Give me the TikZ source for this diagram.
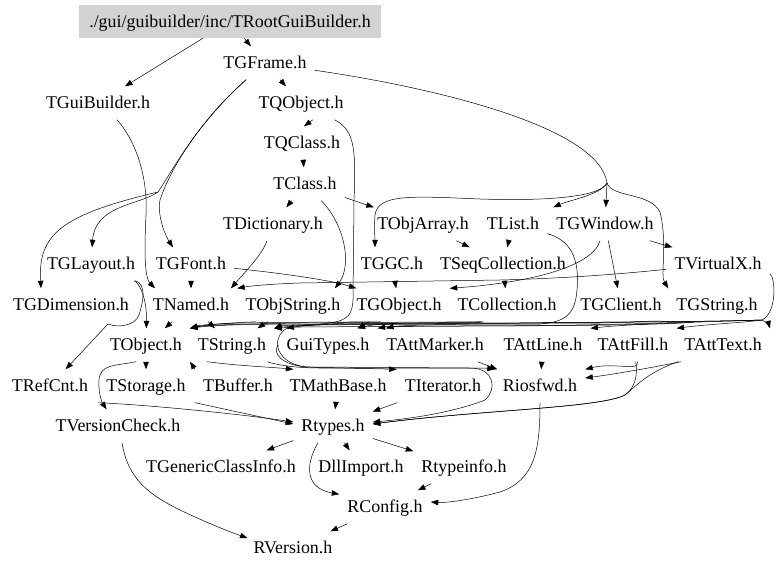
\documentclass[tikz,border=0pt]{standalone}
\usepackage{fontspec}
\setmainfont{Liberation Serif}
\usetikzlibrary{arrows.meta}
\definecolor{rootgray}{RGB}{211,211,211}
\newcommand{\graphfont}{\fontsize{17.9}{21}\selectfont}
\begin{document}
\begin{tikzpicture}[x=1pt,y=-1pt,
  nd/.style={inner xsep=8pt, inner ysep=0pt, minimum height=33pt, text height=15.8pt, text depth=4pt, font=\graphfont},
  rootnd/.style={nd, fill=rootgray, minimum width=302pt},
  ln/.style={draw, line width=0.5pt},
  e/.style={ln, -{Triangle[length=7.5pt,width=5.5pt]}}]
\useasboundingbox (0,0) rectangle (779,568);
\fill[white] (0,0) rectangle (779,568);
% nodes
\node[rootnd] (root) at (230,21.5) {./gui/guibuilder/inc/TRootGuiBuilder.h};
\node[nd] (TGFrame) at (265,63) {TGFrame.h};
\node[nd] (TGuiBuilder) at (98,103) {TGuiBuilder.h};
\node[nd] (TQObject) at (301,103) {TQObject.h};
\node[nd] (TQClass) at (302,143) {TQClass.h};
\node[nd] (TClass) at (305,184) {TClass.h};
\node[nd] (TDictionary) at (273,224) {TDictionary.h};
\node[nd] (TObjArray) at (423,224) {TObjArray.h};
\node[nd] (TList) at (513,224) {TList.h};
\node[nd] (TGWindow) at (605,224) {TGWindow.h};
\node[nd] (TGLayout) at (91,264) {TGLayout.h};
\node[nd] (TGFont) at (191,264) {TGFont.h};
\node[nd] (TGGC) at (392,264) {TGGC.h};
\node[nd] (TSeqColl) at (503,264) {TSeqCollection.h};
\node[nd] (TVirtualX) at (718,264) {TVirtualX.h};
\node[nd] (TGDim) at (71,305) {TGDimension.h};
\node[nd] (TNamed) at (191,305) {TNamed.h};
\node[nd] (TObjString) at (293,305) {TObjString.h};
\node[nd] (TGObject) at (399,305) {TGObject.h};
\node[nd] (TColl) at (507,305) {TCollection.h};
\node[nd] (TGClient) at (621,305) {TGClient.h};
\node[nd] (TGString) at (717,305) {TGString.h};
\node[nd] (TObject) at (146,345) {TObject.h};
\node[nd] (TString) at (232,345) {TString.h};
\node[nd] (GuiTypes) at (328,345) {GuiTypes.h};
\node[nd] (TAttMarker) at (435,345) {TAttMarker.h};
\node[nd] (TAttLine) at (543,345) {TAttLine.h};
\node[nd] (TAttFill) at (633,345) {TAttFill.h};
\node[nd] (TAttText) at (723,345) {TAttText.h};
\node[nd] (TRefCnt) at (50,386) {TRefCnt.h};
\node[nd] (TStorage) at (146,386) {TStorage.h};
\node[nd] (TBuffer) at (238,386) {TBuffer.h};
\node[nd] (TMathBase) at (338,386) {TMathBase.h};
\node[nd] (TIterator) at (443,386) {TIterator.h};
\node[nd] (Riosfwd) at (540,386) {Riosfwd.h};
\node[nd] (TVersionCheck) at (118,426) {TVersionCheck.h};
\node[nd] (Rtypes) at (333,426) {Rtypes.h};
\node[nd] (TGenCI) at (221,467) {TGenericClassInfo.h};
\node[nd] (DllImport) at (361,467) {DllImport.h};
\node[nd] (Rtypeinfo) at (464,467) {Rtypeinfo.h};
\node[nd] (RConfig) at (385,507) {RConfig.h};
\node[nd] (RVersion) at (293,548) {RVersion.h};
\coordinate (hub) at (607,183);
\coordinate (lhub) at (158,192);
\coordinate (vhub) at (762,320);
% edges, top
\draw[e] (root) -- (TGuiBuilder);
\draw[e] (root) -- (TGFrame);
\draw[e] (TGFrame) -- (TQObject);
\draw[e] (TGFrame) .. controls (195,125) and (168,175) .. (160,200) .. controls (157,215) and (165,235) .. ([xshift=-18pt]TGFont.north);
\draw[ln] (TGFrame) .. controls (195,125) and (170,175) .. (lhub);
\draw[e] (lhub) .. controls (140,205) and (95,205) .. (TGLayout);
\draw[e] (lhub) .. controls (60,215) and (38,235) .. ([xshift=-30pt]TGDim.north);
\draw[ln] (TGFrame) .. controls (450,90) and (600,130) .. (hub);
\draw[e] (hub) -- (TGWindow);
\draw[e] (hub) .. controls (600,195) and (570,200) .. ([xshift=6pt]TList.north east);
\draw[e] (hub) .. controls (600,198) and (540,201) .. (480,199) .. controls (410,196) and (378,194) .. (375,215) .. controls (374,228) and (375,238) .. ([xshift=-17pt]TGGC.north);
\draw[e] (hub) .. controls (612,198) and (650,192) .. (660,212) .. controls (668,245) and (660,275) .. (TGString.north west);
\draw[e] ([xshift=19pt]TGuiBuilder.south) .. controls (135,140) and (148,175) .. (146,215) .. controls (144,255) and (145,278) .. ([xshift=-36pt]TNamed.north);
\draw[e] ([xshift=12pt]TQObject.south) -- ([xshift=2pt]TQClass.north);
\draw[e] (TQClass) -- (TClass);
\draw[e] (TQObject) .. controls (355,130) and (356,150) .. (354,200) -- (353,300) .. controls (352,318) and (345,322) .. (320,324) .. controls (295,325) and (280,326) .. (TString.north east);
\draw[e] (TClass) -- (TDictionary);
\draw[e] (TClass) -- (TObjArray);
\draw[e] (TClass) .. controls (345,225) and (352,265) .. ([xshift=42pt]TObjString.north);
\draw[e] (TDictionary) .. controls (262,255) and (245,272) .. ([xshift=40pt]TNamed.north);
\draw[e] (TObjArray) -- (TSeqColl);
\draw[e] (TList) -- (TSeqColl);
\draw[e] (TList) .. controls (570,240) and (580,258) .. (577,290) .. controls (575,315) and (565,322) .. (540,324) -- (320,324) .. controls (250,324) and (215,325) .. (TObject.north east);
\draw[e] ([xshift=-12pt]TGWindow.south east) -- ([xshift=6pt]TVirtualX.north west);
\draw[e] (TGWindow) -- (TGClient);
\draw[e] (TGWindow) .. controls (592,268) and (525,283) .. (TGObject.north east);
\draw[e] (TVirtualX) .. controls (640,272) and (580,278) .. (500,280) -- (300,283) .. controls (270,284) and (250,286) .. (TNamed.north east);
\draw[e] (TGFont) -- (TNamed);
\draw[e] (TGFont) .. controls (280,273) and (330,280) .. ([xshift=8pt]TGObject.north west);
\draw[e] (TGGC) -- (TGObject);
\draw[e] (TSeqColl) -- (TColl);
\draw[e] (TGLayout) .. controls (140,283) and (147,300) .. (TObject);
\draw[e] (TGLayout) .. controls (147,285) and (143,302) .. (139,315) .. controls (135,326) and (118,328) .. (108,324) -- (TRefCnt);
% bundle into row 7
\draw[e] (TNamed) -- (TObject);
\draw[e] (TNamed) -- (TString);
\draw[e] (TObjString) -- (TString);
\draw[e] (TObjString) .. controls (255,322) and (215,323) .. (TObject.north east);
\draw[e] (TGObject) .. controls (380,322) and (300,322) .. (240,323) .. controls (215,324) and (200,325) .. (TObject.north east);
\draw[e] (TGObject) -- (GuiTypes);
\draw[e] (TColl) .. controls (480,322) and (400,322) .. (300,323) .. controls (240,324) and (205,325) .. (TObject.north east);
\draw[e] (TColl) .. controls (480,324) and (400,324) .. (320,325) .. controls (295,326) and (282,327) .. (TString.north east);
\draw[e] (TColl) .. controls (480,323) and (330,323) .. (292,326) .. controls (270,333) and (272,362) .. (305,367) -- (TIterator.north west);
\draw[e] (TGString) .. controls (690,322) and (600,326) .. (450,326) -- (300,327) .. controls (290,327) and (282,328) .. (TString.north east);
\draw[e] (TGString) .. controls (690,324) and (600,326) .. (450,326) .. controls (400,326) and (385,327) .. (GuiTypes.north east);
\draw[e] (TGClient) .. controls (660,320) and (640,322) .. (600,323) -- (420,323) .. controls (390,323) and (370,325) .. ([xshift=-20pt]GuiTypes.north east);
\draw[ln] (TVirtualX) .. controls (775,275) and (778,312) .. (vhub);
\draw[e] (vhub) .. controls (766,322) and (769,325) .. (TAttText.north east);
\draw[e] (vhub) .. controls (740,323) and (710,324) .. (TAttFill.north east);
\draw[e] (vhub) .. controls (700,322) and (630,324) .. (TAttLine.north east);
\draw[e] (vhub) .. controls (700,322) and (600,322) .. (520,323) .. controls (470,324) and (400,325) .. ([xshift=8pt]TAttMarker.north west);
\draw[e] (vhub) .. controls (700,322) and (600,322) .. (520,323) -- (350,323) .. controls (320,324) and (300,326) .. ([xshift=8pt]GuiTypes.north west);
% row 8
\draw[e] (TObject) -- (TStorage);
\draw[e] ([xshift=-10pt]TObject.south) .. controls (115,366) and (100,364) .. (99,380) .. controls (98,395) and (103,404) .. (TVersionCheck);
\draw[e] (TBuffer.north west) -- (TObject.south east);
\draw[e] ([xshift=-25pt]TString.south) .. controls (240,366) and (270,367) .. ([xshift=12pt]TMathBase.north west);
\draw[e] (TString) .. controls (268,362) and (285,368) .. (320,368) -- (450,368) .. controls (470,368) and (485,368) .. (Riosfwd.north west);
\draw[e] (GuiTypes.west) .. controls (272,352) and (280,366) .. (310,367) -- (470,368) .. controls (495,368) and (497,390) .. (485,400) .. controls (460,410) and (420,418) .. ([yshift=4pt]Rtypes.east);
\draw[e] (TAttMarker) -- (Riosfwd);
\draw[e] (TAttLine) -- (Riosfwd);
\draw[e] (TAttFill) .. controls (640,372) and (615,362) .. (Riosfwd.north east);
\draw[e] (TAttText) .. controls (680,362) and (630,372) .. ([yshift=8pt]Riosfwd.east);
\draw[e] (TAttText) .. controls (650,372) and (640,382) .. (625,395) .. controls (600,408) and (480,410) .. ([yshift=2pt]Rtypes.east);
\draw[e] (TAttFill) .. controls (638,375) and (635,388) .. (625,395) .. controls (600,408) and (480,410) .. ([yshift=2pt]Rtypes.east);
% lower rows
\draw[e] (TStorage.south west) .. controls (150,405) and (240,414) .. ([yshift=4pt]Rtypes.west);
\draw[e] (TBuffer.south west) -- ([yshift=2pt]Rtypes.west);
\draw[e] (TMathBase) -- (Rtypes);
\draw[e] (TIterator) -- (Rtypes);
\draw[e] (Rtypes) -- (TGenCI);
\draw[e] (Rtypes) -- (DllImport);
\draw[e] (Rtypes) -- (Rtypeinfo);
\draw[e] ([xshift=-15pt]Rtypes.south) .. controls (305,465) and (305,488) .. ([yshift=-4pt]RConfig.north west);
\draw[e] (Rtypeinfo) -- (RConfig);
\draw[e] (Riosfwd) .. controls (540,450) and (535,480) .. (500,492) .. controls (470,500) and (445,503) .. ([yshift=5pt]RConfig.east);
\draw[e] (RConfig) -- (RVersion);
\draw[e] ([xshift=4pt]TVersionCheck.south) .. controls (128,480) and (150,495) .. (180,510) .. controls (205,522) and (230,532) .. ([xshift=2pt,yshift=10pt]RVersion.west);
\end{tikzpicture}
\end{document}
